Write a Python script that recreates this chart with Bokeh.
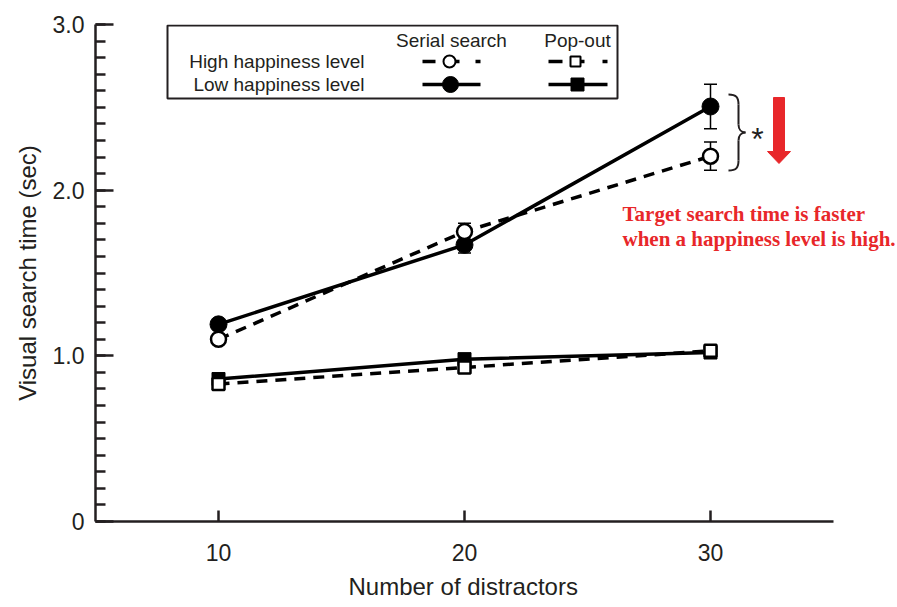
from bokeh.plotting import figure
from bokeh.models import Range1d, FixedTicker, Label, Title
from bokeh.core.properties import value
from bokeh.embed import file_html
from bokeh.resources import INLINE

# ---- data ----
distractors = [10, 20, 30]
serial_high = [1.10, 1.75, 2.205]
serial_high_err = [0.02, 0.05, 0.085]
serial_low = [1.19, 1.67, 2.505]
serial_low_err = [0.02, 0.05, 0.135]
popout_high = [0.83, 0.93, 1.03]
popout_low = [0.86, 0.98, 1.02]
y_ticks = [0, 1, 2, 3]
y_tick_labels = ["0", "1.0", "2.0", "3.0"]
x_ticks = [10, 20, 30]
x_axis_span = (5, 35)

INK = "#231f20"
RED = "#e8272a"
SANS = "Liberation Sans"

# frame spans page x 95..895; the drawn x axis covers 5..35 (page 95..833)
PX_PER_UNIT = 738 / 30.0
x_end = 5 + 800 / PX_PER_UNIT

p = figure(width=897, height=607, x_range=Range1d(5, x_end), y_range=Range1d(0, 3),
           output_backend="svg", toolbar_location=None,
           min_border_left=95, min_border_right=2, min_border_top=24, min_border_bottom=86)
p.outline_line_color = None
p.grid.visible = False

# axes
xa = p.xaxis[0]
xa.bounds = x_axis_span
xa.ticker = FixedTicker(ticks=x_ticks, minor_ticks=[])
xa.major_tick_in = 11
xa.major_tick_out = 0
xa.minor_tick_in = 0
xa.minor_tick_out = 0
xa.major_label_standoff = 22

ya = p.yaxis[0]
ya.ticker = FixedTicker(ticks=y_ticks, minor_ticks=[round(i * 0.1, 1) for i in range(31)])
ya.major_label_overrides = {t: l for t, l in zip(y_ticks, y_tick_labels)}
ya.major_tick_in = 18
ya.major_tick_out = 0
ya.minor_tick_in = 10
ya.minor_tick_out = 0
ya.axis_label = "Visual search time (sec)"
ya.major_label_standoff = 11
ya.axis_label_standoff = 9

for ax in (xa, ya):
    ax.axis_line_color = INK
    ax.axis_line_width = 2.5
    ax.major_tick_line_color = INK
    ax.major_tick_line_width = 2.5
    ax.minor_tick_line_color = INK
    ax.minor_tick_line_width = 2.5
    ax.major_label_text_font = SANS
    ax.major_label_text_font_size = "23px"
    ax.major_label_text_color = INK
    ax.axis_label_text_font = SANS
    ax.axis_label_text_font_size = "24px"
    ax.axis_label_text_font_style = "normal"
    ax.axis_label_text_color = INK

# x axis title, centred under the drawn axis (not the wider frame)
p.add_layout(Title(text="Number of distractors", align="left", offset=253, standoff=15,
                   text_font=SANS, text_font_size="24px", text_font_style="normal",
                   text_color=INK), "below")

# ---- data lines ----
LW = 3.5
p.line(distractors, serial_low, line_color="black", line_width=LW)
p.line(distractors, serial_high, line_color="black", line_width=LW, line_dash="11 8")
p.line(distractors, popout_low, line_color="black", line_width=LW)
p.line(distractors, popout_high, line_color="black", line_width=LW, line_dash="11 8")

# error bars
for ys, es in ((serial_low, serial_low_err), (serial_high, serial_high_err)):
    lo = [y - e for y, e in zip(ys, es)]
    hi = [y + e for y, e in zip(ys, es)]
    p.segment(distractors, lo, distractors, hi, line_color="black", line_width=1.5)
    p.scatter(distractors, lo, marker="dash", size=13, line_color="black", line_width=1.5)
    p.scatter(distractors, hi, marker="dash", size=13, line_color="black", line_width=1.5)

# markers
p.scatter(distractors, serial_low, marker="circle", size=17, fill_color="black", line_color="black")
p.scatter(distractors, serial_high, marker="circle", size=15, fill_color="white", line_color="black", line_width=2.5)
p.scatter(distractors, popout_low, marker="square", size=13, fill_color="black", line_color="black")
p.scatter(distractors, popout_high, marker="square", size=12, fill_color="white", line_color="black", line_width=2.5)

# ---- decorations (page pixel -> data helpers) ----
def X(px):
    return 5 + (px - 95) / PX_PER_UNIT

def Y(py):
    return (521 - py) * 3.0 / 497

# legend box
p.quad(left=[X(167)], right=[X(617)], bottom=[Y(98)], top=[Y(25)],
       fill_color="white", line_color=INK, line_width=2)
p.text(x=[X(451), X(577)], y=[Y(40), Y(40)], text=["Serial search", "Pop-out"],
       text_font=value(SANS), text_font_size="19px", text_color=INK,
       text_align="center", text_baseline="middle")
p.text(x=[X(364), X(364)], y=[Y(61), Y(84)], text=["High happiness level", "Low happiness level"],
       text_font=value(SANS), text_font_size="19px", text_color=INK,
       text_align="right", text_baseline="middle")
# legend samples
hy, ly = Y(61), Y(84)
p.segment(x0=[X(422), X(454), X(475), X(548), X(580), X(602)],
          y0=[hy] * 6,
          x1=[X(435), X(459), X(480), X(562), X(584), X(607)],
          y1=[hy] * 6, line_color="black", line_width=3.5)
p.segment(x0=[X(422), X(548)], y0=[ly, ly], x1=[X(480), X(607)], y1=[ly, ly],
          line_color="black", line_width=3.5)
p.scatter([X(449)], [hy], marker="circle", size=12, fill_color="white", line_color="black", line_width=2)
p.scatter([X(450)], [ly], marker="circle", size=16, fill_color="black", line_color="black")
p.scatter([X(575)], [hy], marker="square", size=10, fill_color="white", line_color="black", line_width=2)
p.scatter([X(577)], [ly], marker="square", size=13, fill_color="black", line_color="black")

# brace
p.bezier(x0=[X(728), X(738), X(745), X(738)],
         y0=[Y(94), Y(124), Y(132), Y(160)],
         x1=[X(738), X(745), X(738), X(728)],
         y1=[Y(104), Y(132), Y(140), Y(170)],
         cx0=[X(736), X(738), X(741), X(738)],
         cy0=[Y(94), Y(129), Y(132), Y(167)],
         cx1=[X(738), X(741), X(738), X(736)],
         cy1=[Y(97), Y(132), Y(135), Y(170)],
         line_color=INK, line_width=2)
p.segment(x0=[X(738), X(738)], y0=[Y(104), Y(140)], x1=[X(738), X(738)], y1=[Y(124), Y(160)],
          line_color=INK, line_width=2)
p.text(x=[X(757)], y=[Y(138)], text=["*"], text_font=value(SANS), text_font_size="32px",
       text_color=INK, text_align="center", text_baseline="middle")

# red arrow
p.patch(x=[X(773), X(784), X(784), X(790), X(778.5), X(767), X(773)],
        y=[Y(97), Y(97), Y(151), Y(151), Y(163), Y(151), Y(151)],
        fill_color=RED, line_color=RED, line_width=1)

# red text
for txt, py in (("Target search time is faster", 213), ("when a happiness level is high.", 238)):
    p.add_layout(Label(x=X(622), y=Y(py), text=txt, text_font="Liberation Serif",
                       text_font_size="21px", text_font_style="bold", text_color=RED,
                       text_align="left", text_baseline="middle"))

open("out.html", "w").write(file_html(p, INLINE))
